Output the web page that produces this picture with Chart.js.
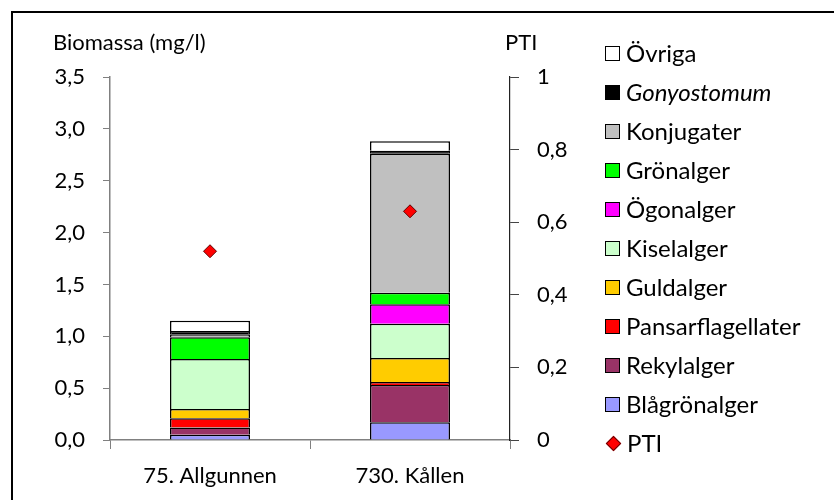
<!DOCTYPE html>
<html>
<head>
<meta charset="utf-8">
<script src="https://cdn.jsdelivr.net/npm/chart.js@4"></script>
<style>
  body { margin: 0; background: #fff; }
  #wrap { position: relative; width: 834px; height: 500px; font-family: Lato, sans-serif; font-size: 22px; color: #000; }
  #frame { position: absolute; left: 11px; top: 11px; width: 830px; height: 500px; border-left: 2px solid #000; border-top: 2px solid #000; }
  .lbl { position: absolute; line-height: 1; white-space: nowrap; }
  #legend { position: absolute; left: 605px; top: 0; font-size: 24px; }
  .row { position: absolute; left: 0; display: flex; align-items: center; white-space: nowrap; line-height: 1; }
  .box { width: 13px; height: 13px; border: 1.5px solid #000; margin-right: 6px; }
  .dia { width: 16px; height: 16px; margin-right: 6px; position: relative; }
  .dia::before { content: ""; position: absolute; left: 3px; top: 3px; width: 9px; height: 9px; background: #f00; border: 1px solid #600; transform: rotate(45deg); }
</style>
</head>
<body>
<div id="wrap">
  <canvas id="c" width="834" height="500"></canvas>
  <div id="frame"></div>
  <div class="lbl" style="left:53px; top:31px;">Biomassa (mg/l)</div>
  <div class="lbl" style="left:505px; top:31px;">PTI</div>
  <div id="legend"></div>
</div>
<script>
// Kategorier (sjöar)
const categories = ['75. Allgunnen', '730. Kållen'];

// Biomassa per grupp (mg/l)
const blagronalger = [0.05, 0.17];
const rekylalger = [0.07, 0.36];
const pansarflagellater = [0.09, 0.03];
const guldalger = [0.09, 0.23];
const kiselalger = [0.48, 0.33];
const ogonalger = [0.00, 0.19];
const gronalger = [0.21, 0.11];
const konjugater = [0.03, 1.34];
const gonyostomum = [0.03, 0.03];
const ovriga = [0.10, 0.09];

// PTI-index
const pti = [0.52, 0.63];

// Axelgränser
const biomassMax = 3.5;
const biomassStep = 0.5;
const ptiMax = 1;
const ptiStep = 0.2;

const groups = [
    { label: 'Blågrönalger', data: blagronalger, color: '#9999ff' },
    { label: 'Rekylalger', data: rekylalger, color: '#993366' },
    { label: 'Pansarflagellater', data: pansarflagellater, color: '#ff0000' },
    { label: 'Guldalger', data: guldalger, color: '#ffcc00' },
    { label: 'Kiselalger', data: kiselalger, color: '#ccffcc' },
    { label: 'Ögonalger', data: ogonalger, color: '#ff00ff' },
    { label: 'Grönalger', data: gronalger, color: '#00ff00' },
    { label: 'Konjugater', data: konjugater, color: '#c0c0c0' },
    { label: 'Gonyostomum', data: gonyostomum, color: '#000000', italic: true },
    { label: 'Övriga', data: ovriga, color: '#ffffff' }
];

const datasets = [{
    type: 'line',
    label: 'PTI',
    data: pti,
    yAxisID: 'y1',
    showLine: false,
    pointStyle: 'rectRot',
    pointRadius: 6.5,
    pointBackgroundColor: '#ff0000',
    pointBorderColor: '#600000',
    pointBorderWidth: 1,
    order: 0
}];
groups.forEach(g => {
    datasets.push({
        type: 'bar',
        label: g.label,
        data: g.data,
        backgroundColor: g.color,
        borderColor: '#000',
        borderWidth: 1.5,
        yAxisID: 'y',
        order: 1
    });
});

const fmt = v => v.toFixed(1).replace('.', ',');
const fmtPti = v => (Math.round(v * 10) / 10).toString().replace('.', ',');
const tickFont = { family: 'Lato', size: 22 };

new Chart(document.getElementById('c').getContext('2d'), {
    data: { labels: categories, datasets: datasets },
    options: {
        responsive: false,
        animation: false,
        events: [],
        layout: { padding: { left: 0, right: 0, top: 77, bottom: 0 } },
        plugins: { legend: { display: false }, tooltip: { enabled: false } },
        datasets: { bar: { barPercentage: 0.4, categoryPercentage: 1 } },
        scales: {
            x: {
                stacked: true,
                offset: true,
                grid: { offset: true, drawOnChartArea: false, color: '#808080', tickLength: 9 },
                border: { color: '#808080', width: 1.5 },
                ticks: { color: '#000', font: tickFont, padding: 14 },
                afterFit: s => { s.height = 60; }
            },
            y: {
                stacked: true,
                position: 'left',
                min: 0,
                max: biomassMax,
                grid: { drawOnChartArea: false, color: '#808080', tickLength: 7 },
                border: { color: '#808080', width: 1.5 },
                ticks: { stepSize: biomassStep, color: '#000', font: tickFont, padding: 18, callback: v => fmt(v) },
                afterFit: s => { s.width = 110; }
            },
            y1: {
                position: 'right',
                min: 0,
                max: ptiMax,
                grid: { drawOnChartArea: false, color: '#444', tickLength: 9 },
                border: { color: '#222', width: 1.2 },
                ticks: { stepSize: ptiStep, color: '#000', font: tickFont, padding: 18, callback: v => fmtPti(v) },
                afterFit: s => { s.width = 324; }
            }
        }
    }
});

// Förklaring, byggd från grupperna i omvänd ordning
const legend = document.getElementById('legend');
const rows = groups.slice().reverse();
rows.forEach((g, i) => {
    const row = document.createElement('div');
    row.className = 'row';
    row.style.top = (53 + i * 39 - 12) + 'px';
    row.innerHTML = '<div class="box" style="background:' + g.color + '"></div>' +
        '<span style="' + (g.italic ? 'font-style:italic' : '') + '">' + g.label + '</span>';
    legend.appendChild(row);
});
const ptiRow = document.createElement('div');
ptiRow.className = 'row';
ptiRow.style.top = (53 + rows.length * 39 - 12) + 'px';
ptiRow.innerHTML = '<div class="dia"></div><span>PTI</span>';
legend.appendChild(ptiRow);
</script>
</body>
</html>
